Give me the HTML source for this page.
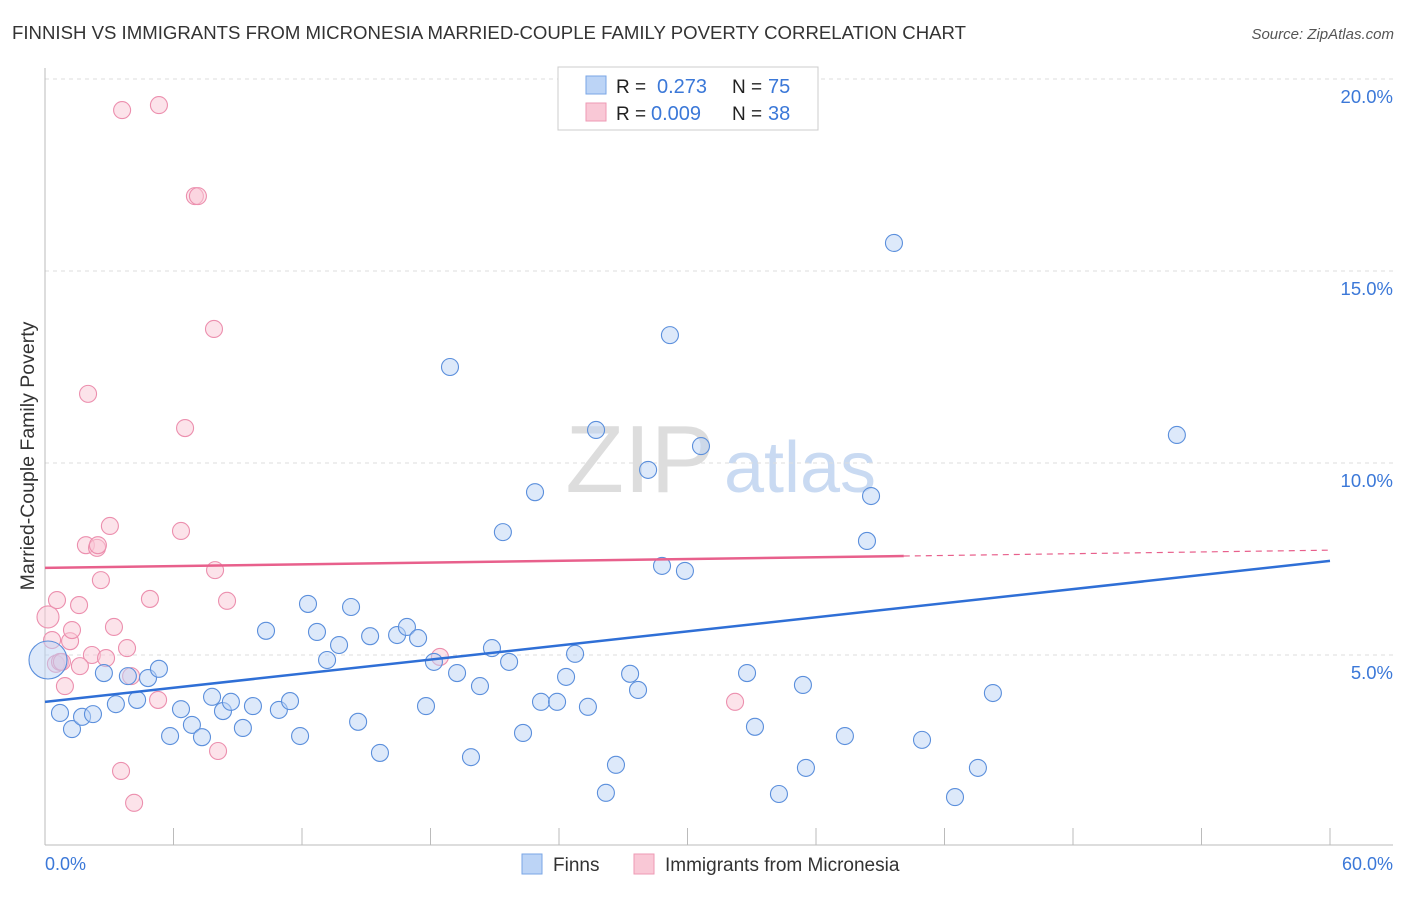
<!DOCTYPE html>
<html><head><meta charset="utf-8"><style>
body{margin:0;background:#fff;font-family:"Liberation Sans",sans-serif;}
svg text{font-family:"Liberation Sans",sans-serif;}
</style></head><body>
<svg id="c" width="1406" height="892" viewBox="0 0 1406 892">
<text x="12" y="39" font-size="18.6" fill="#333" textLength="954">FINNISH VS IMMIGRANTS FROM MICRONESIA MARRIED-COUPLE FAMILY POVERTY CORRELATION CHART</text>
<text x="1394" y="39" font-size="15" fill="#555" font-style="italic" text-anchor="end">Source: ZipAtlas.com</text>
<text x="640" y="492" font-size="96" fill="#ddd" font-family="Liberation Serif" text-anchor="middle">ZIP</text>
<text x="800" y="492" font-size="72" fill="#c9daf2" text-anchor="middle">atlas</text>
<g id="grid"></g><g id="pts"></g><g id="lines"></g>
<text transform="translate(34,456) rotate(-90)" font-size="19.5" fill="#333" text-anchor="middle">Married-Couple Family Poverty</text>
<text x="45" y="870" font-size="18" fill="#3b78d8">0.0%</text>
<text x="1393" y="870" font-size="18" fill="#3b78d8" text-anchor="end">60.0%</text>
<g>
<rect x="558" y="67" width="260" height="63" fill="#fff" stroke="#ccc"/>
<rect x="586" y="76" width="20" height="18" fill="#bcd4f6" stroke="#7aa6e6"/>
<rect x="586" y="103" width="20" height="18" fill="#f9c8d6" stroke="#ee9ab4"/>
<text x="616" y="93" font-size="19" fill="#222">R =</text><text x="657" y="93" font-size="20" fill="#3b78d8">0.273</text>
<text x="732" y="93" font-size="19" fill="#222">N =</text><text x="768" y="93" font-size="20" fill="#3b78d8">75</text>
<text x="616" y="120" font-size="19" fill="#222">R =</text><text x="651" y="120" font-size="20" fill="#3b78d8">0.009</text>
<text x="732" y="120" font-size="19" fill="#222">N =</text><text x="768" y="120" font-size="20" fill="#3b78d8">38</text>
</g>
<g>
<rect x="522" y="854" width="20" height="20" fill="#bcd4f6" stroke="#7aa6e6"/>
<text x="553" y="871" font-size="19" fill="#333">Finns</text>
<rect x="634" y="854" width="20" height="20" fill="#f9c8d6" stroke="#ee9ab4"/>
<text x="665" y="871" font-size="19" fill="#333">Immigrants from Micronesia</text>
</g>
</svg>
<script>
const finnX=[0.14,0.70,1.26,1.73,2.24,2.75,3.31,3.87,4.30,4.81,5.32,5.84,6.35,6.86,7.33,7.80,8.31,8.68,9.24,9.71,10.32,10.92,11.44,11.91,12.28,12.70,13.17,13.73,14.29,14.62,15.18,15.64,16.44,16.90,17.42,17.79,18.16,18.91,19.24,19.89,20.31,20.87,21.38,21.67,22.32,22.88,23.16,23.91,24.33,24.75,25.35,25.73,26.66,26.19,27.32,27.69,28.16,28.81,29.18,29.88,30.63,32.78,33.15,34.27,35.39,35.53,37.35,38.38,38.57,39.64,40.95,42.49,43.56,44.26,52.85];
const finnY=[4.87,3.49,3.07,3.39,3.46,4.53,3.72,4.45,3.83,4.40,4.64,2.89,3.59,3.18,2.86,3.91,3.54,3.78,3.10,3.67,5.63,3.57,3.80,2.89,6.33,5.60,4.87,5.26,6.25,3.26,5.49,2.45,5.52,5.73,5.44,3.67,4.82,12.50,4.53,2.34,4.19,5.18,8.20,4.82,2.97,9.24,3.78,3.78,4.43,5.03,3.65,10.86,2.14,1.41,4.51,4.09,9.82,7.32,13.33,7.19,10.44,4.53,3.13,1.38,4.22,2.06,2.89,7.97,9.14,15.73,2.79,1.30,2.06,4.01,10.73];
const micX=[0.14,0.33,0.51,0.56,0.70,0.93,1.17,1.26,1.59,1.91,2.01,2.19,2.43,2.47,2.61,2.85,3.03,3.22,3.55,3.60,3.83,4.02,4.16,4.90,5.28,5.32,6.35,6.54,7.00,7.14,7.89,7.94,8.08,8.50,18.44,32.22,0.79,1.63];
const micY=[5.99,5.39,4.77,6.43,4.82,4.19,5.36,5.65,6.30,7.86,11.80,5.00,7.79,7.86,6.95,4.92,8.36,5.73,1.98,19.19,5.18,4.45,1.15,6.46,3.83,19.32,8.23,10.91,16.95,16.95,13.49,7.21,2.50,6.41,4.95,3.78,4.82,4.71];
const yTicks=[5,10,15,20];
const trendFinn=[3.78,7.45];
const trendMic=[7.27,7.73];
const micSolidEnd=40.1;
const NS='http://www.w3.org/2000/svg';
const X=v=>45+v*(1285/60), Y=v=>847-v*38.4;
function mk(t,a,p){const e=document.createElementNS(NS,t);for(const k in a)e.setAttribute(k,a[k]);p.appendChild(e);return e;}
const grid=document.getElementById('grid'),pts=document.getElementById('pts'),lines=document.getElementById('lines');
yTicks.forEach(t=>{
 const l=mk('line',{x1:45,x2:1393,y1:Y(t),y2:Y(t),stroke:'#ddd','stroke-dasharray':'4,4'},grid);
 
 
 const tx=mk('text',{x:1393,y:Y(t)+24,'font-size':18.5,fill:'#3b78d8','text-anchor':'end'},grid);
 tx.textContent=t.toFixed(1)+'%';
 
 
});
const ax=mk('line',{x1:45,x2:45,y1:68,y2:845,stroke:'#bbb'},grid);


const bx=mk('line',{x1:45,x2:1393,y1:845,y2:845,stroke:'#bbb'},grid);


for(let i=0;i<=10;i++){const tk=mk('line',{x1:X(i*6),x2:X(i*6),y1:828,y2:845,stroke:'#bbb'},grid);
 
 }
function dot(x,y,r,fill,stroke,name){const c=mk('circle',{cx:X(x),cy:Y(y),r:r,fill:fill,'fill-opacity':0.5,stroke:stroke,'stroke-width':1.1},pts);
 
 }
micX.forEach((x,i)=>dot(x,micY[i],i==0?11:8.5,'#f9c8d6','#ec8fae','micronesia-point'));
finnX.forEach((x,i)=>dot(x,finnY[i],i==0?19:8.5,'#bcd4f6','#5b8fdc','finns-point'));
const fl=mk('line',{x1:X(0),y1:Y(trendFinn[0]),x2:X(60),y2:Y(trendFinn[1]),stroke:'#2f6fd6','stroke-width':2.5},lines);


const mS=trendMic[0]+(trendMic[1]-trendMic[0])*micSolidEnd/60;
const ml=mk('line',{x1:X(0),y1:Y(trendMic[0]),x2:X(micSolidEnd),y2:Y(mS),stroke:'#e8608c','stroke-width':2.5},lines);


const md=mk('line',{x1:X(micSolidEnd),y1:Y(mS),x2:X(60),y2:Y(trendMic[1]),stroke:'#e8608c','stroke-width':1.2,'stroke-dasharray':'6,5'},lines);


</script>
</body></html>
